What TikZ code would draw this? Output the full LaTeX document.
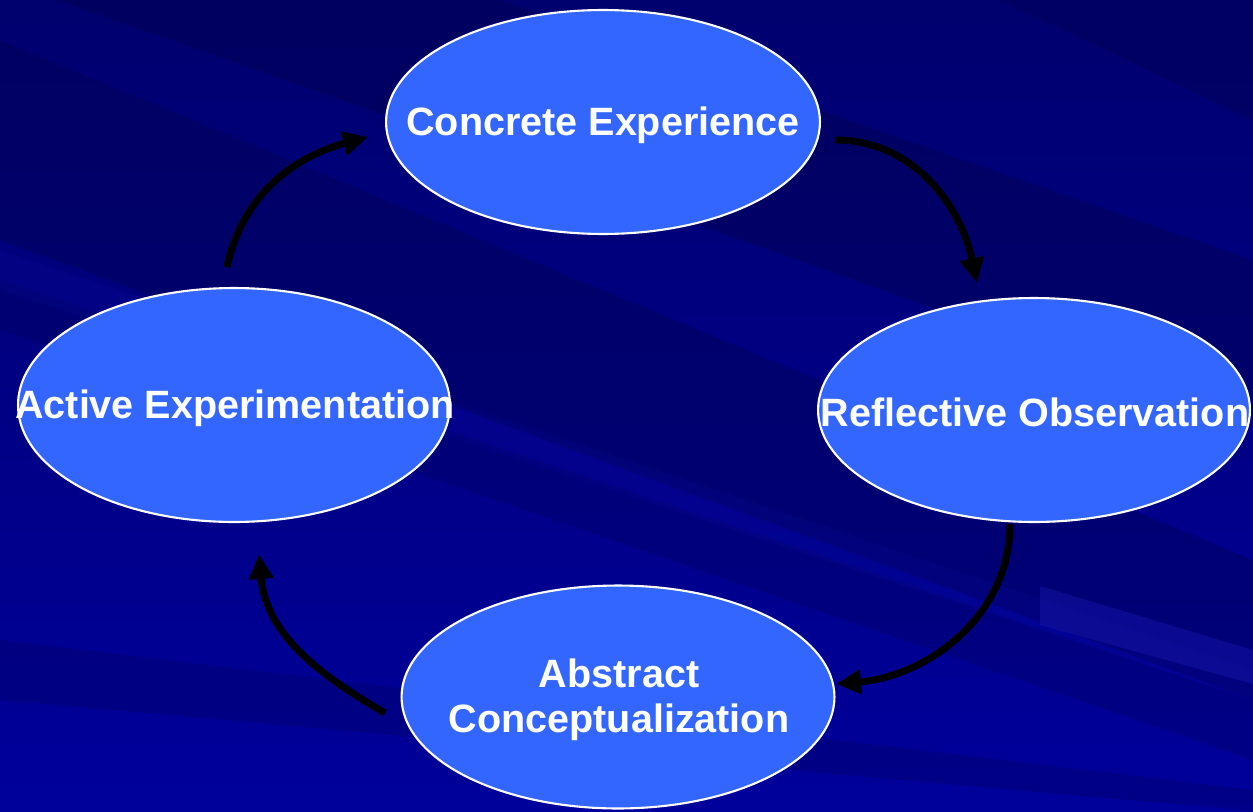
\documentclass[tikz,border=0pt]{standalone}
\usepackage{fontspec}
\setmainfont{Liberation Sans}
\usetikzlibrary{shapes.geometric,arrows.meta}
\definecolor{bgtop}{RGB}{0,0,110}
\definecolor{bgbot}{RGB}{0,0,155}
\definecolor{banddark}{RGB}{0,0,80}
\definecolor{bandlight}{RGB}{20,20,170}
\definecolor{ellfill}{RGB}{51,102,255}
\tikzset{
  stage/.style={ellipse, draw=white, line width=1.2pt, fill=ellfill, inner sep=0pt},
  stagetext/.style={text=white, font=\bfseries\fontsize{22.5}{25.5}\selectfont, align=center},
  cyclearrow/.style={line width=4pt, draw=black, -{Triangle[length=0.5cm,width=0.47cm]}},
}
\begin{document}
\begin{tikzpicture}[x=0.02cm,y=-0.02cm]
\useasboundingbox (0,0) rectangle (1253,811);
% background
\shade[top color=bgtop, bottom color=bgbot] (0,0) rectangle (1253,811);
\begin{scope}
\clip (0,0) rectangle (1253,811);
\fill[banddark, opacity=0.45] (0,0) -- (500,0) -- (1253,260) -- (1253,420) -- (0,-20) -- cycle;
\fill[banddark, opacity=0.4] (0,40) -- (0,240) -- (1253,700) -- (1253,560) -- cycle;
\fill[banddark, opacity=0.25] (0,280) -- (0,330) -- (1253,760) -- (1253,700) -- cycle;
\fill[banddark, opacity=0.25] (0,640) -- (0,700) -- (1253,811) -- (1253,790) -- cycle;
\fill[banddark, opacity=0.4] (1000,0) -- (1253,0) -- (1253,120) -- cycle;
\fill[bandlight, opacity=0.5] (1040,586) -- (1253,650) -- (1253,684) -- (1040,625) -- cycle;
\fill[bandlight, opacity=0.15] (0,250) -- (0,290) -- (1253,700) -- (1253,670) -- cycle;
\end{scope}
% stages
\node[stage, minimum width=8.68cm, minimum height=4.48cm] (ce) at (603,122) {};
\node[stage, minimum width=8.64cm, minimum height=4.48cm] (ro) at (1034,410) {};
\node[stage, minimum width=8.66cm, minimum height=4.46cm] (ac) at (618,697) {};
\node[stage, minimum width=8.64cm, minimum height=4.68cm] (ae) at (234,405) {};
\node[stagetext] (cet) at (603,125) {Concrete Experience};
\node[stagetext] (rot) at (1035,412) {Reflective Observation};
\node[stagetext] (act) at (619,700) {Abstract\\Conceptualization};
\node[stagetext] (aet) at (235,408) {Active Experimentation};
% arrow end points
\coordinate (a1s) at (835,140);
\coordinate (a1e) at (977,283);
\coordinate (a2s) at (1010,524);
\coordinate (a2e) at (836,684);
\coordinate (a3s) at (385,713);
\coordinate (a3e) at (259,554);
\coordinate (a4s) at (227,267);
\coordinate (a4e) at (368,137);
\draw[cyclearrow] (a1s) to[out=0,in=102] (a1e);
\draw[cyclearrow] (a2s) to[out=-90,in=5] (a2e);
\draw[cyclearrow] (a3s) to[out=150,in=-85] (a3e);
\draw[cyclearrow] (a4s) to[out=78,in=195] (a4e);
\end{tikzpicture}
\end{document}
